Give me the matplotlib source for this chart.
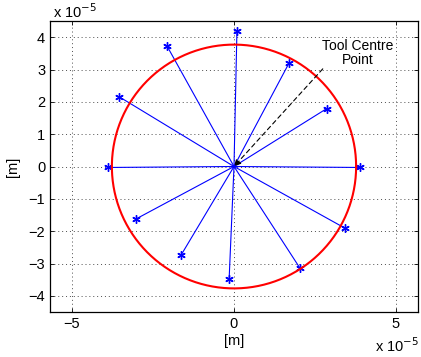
import matplotlib
matplotlib.use("Agg")
import matplotlib.pyplot as plt
import numpy as np

plt.rcParams['font.family'] = ['Liberation Sans', 'DejaVu Sans']

# measured points (units of 1e-5 m)
px = [0.09, -2.07, -3.55, -3.88, -3.02, -1.64, -0.15, 2.04, 3.43, 3.89, 2.86, 1.70]
py = [4.18, 3.73, 2.16, -0.03, -1.62, -2.75, -3.47, -3.15, -1.91, -0.03, 1.79, 3.20]
radius = 3.77
tcp_tail = (2.74, 3.02)
tcp_text = (3.83, 3.5)

fig = plt.figure(figsize=(4.21, 3.57), dpi=100)
ax = fig.add_axes([50/421, 1 - 312/357, 368/421, 291/357])

for x, y in zip(px, py):
    ax.plot([0, x], [0, y], color='blue', lw=0.8)
ax.plot(px, py, ls='none', marker=(6, 2, 0), color='blue', ms=6, mew=1.0)

t = np.linspace(0, 2*np.pi, 400)
ax.plot(radius*np.cos(t), radius*np.sin(t), color='red', lw=1.5)

ax.annotate('', xy=(0, 0), xytext=tcp_tail,
            arrowprops=dict(arrowstyle='-|>', ls=(0, (4, 3)), color='black',
                            lw=0.8, shrinkA=0, shrinkB=0, mutation_scale=10))
ax.text(tcp_text[0], tcp_text[1], 'Tool Centre\nPoint', ha='center', va='center',
        fontsize=10, linespacing=1.0)

ax.set_xlim(-5.68, 5.68)
ax.set_ylim(-4.5, 4.5)
ax.set_xticks([-5, 0, 5])
ax.set_yticks(range(-4, 5))
ax.set_xticklabels(['\u22125', '0', '5'])
ax.set_yticklabels(['\u2212%d' % -v if v < 0 else '%d' % v for v in range(-4, 5)])
ax.tick_params(direction='in', labelsize=10.5, length=3, width=0.6, top=True, right=True)
ax.grid(True, ls=(0, (1, 3)), color='0.3', lw=0.7)
for s in ax.spines.values():
    s.set_linewidth(0.9)

ax.set_xlabel('[m]', fontsize=10.5, labelpad=2)
ax.set_ylabel('[m]', fontsize=10.5, labelpad=6)

fig.text(53/421, 1 - 12/357, 'x 10$^{-5}$', fontsize=10.5, va='center', ha='left')
fig.text(419/421, 1 - 346/357, 'x 10$^{-5}$', fontsize=10.5, va='center', ha='right')

fig.savefig('out.png', dpi=100)
